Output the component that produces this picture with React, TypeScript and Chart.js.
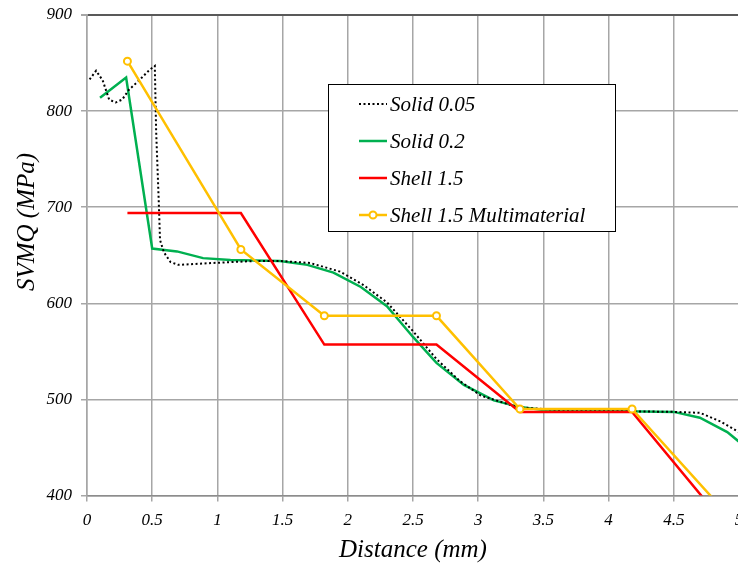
import React, { useEffect, useRef } from "react";
import { Chart, registerables } from "chart.js";
Chart.register(...registerables);

// ---- data ----
const seriesNames = ["Solid 0.05", "Solid 0.2", "Shell 1.5", "Shell 1.5 Multimaterial"];

const solid005X = [0.02, 0.07, 0.12, 0.17, 0.22, 0.27, 0.32, 0.40, 0.48, 0.52, 0.53, 0.55, 0.56, 0.59, 0.64, 0.70, 0.97, 1.28, 1.48, 1.71, 1.94, 2.12, 2.30, 2.50, 2.68, 2.86, 3.02, 3.30, 3.60, 4.00, 4.50, 4.70, 4.86, 5.00];
const solid005Y = [833, 842, 832, 812, 809, 812, 822, 832, 843, 847, 780, 707, 666, 653, 643, 640, 642, 644, 644, 642, 633, 619, 601, 571, 542, 519, 504, 492, 489, 488, 487, 486, 477, 466];

const solid02X = [0.10, 0.30, 0.50, 0.69, 0.89, 1.10, 1.48, 1.69, 1.89, 2.10, 2.30, 2.50, 2.68, 2.89, 3.02, 3.12, 3.32, 3.50, 4.00, 4.50, 4.70, 4.91, 5.00];
const solid02Y = [814, 835, 657, 654, 647, 645, 644, 640, 632, 617, 597, 565, 538, 515, 506, 499, 492, 489, 488, 487, 481, 466, 456];

const shellX = [0.31, 1.18, 1.82, 2.68, 3.32, 4.18, 4.82];
const shellY = [694, 694, 557, 557, 487, 487, 382];

const shellMultiX = [0.31, 1.18, 1.82, 2.68, 3.32, 4.18, 4.82];
const shellMultiY = [852, 656, 587, 587, 490, 490, 394];

const xMin = 0;
const xMax = 5;
const xStep = 0.5;
const yMin = 400;
const yMax = 900;
const yStep = 100;

const xTitle = "Distance (mm)";
const yTitle = "SVMQ (MPa)";

const toPoints = (xs: number[], ys: number[]) => xs.map((x, i) => ({ x, y: ys[i] }));

const FONT = "'Liberation Serif', 'Times New Roman', serif";

const overlayPlugin = {
  id: "overlay",
  afterDraw(chart: any) {
    const ctx = chart.ctx as CanvasRenderingContext2D;
    // y axis title
    ctx.save();
    ctx.font = `italic 25px ${FONT}`;
    ctx.fillStyle = "#000";
    ctx.translate(27, 222);
    ctx.rotate(-Math.PI / 2);
    ctx.textAlign = "center";
    ctx.textBaseline = "middle";
    ctx.fillText(yTitle, 0, 0);
    ctx.restore();

    // legend box
    const bx = 328.5, by = 84.5, bw = 287, bh = 147;
    ctx.save();
    ctx.fillStyle = "#fff";
    ctx.fillRect(bx, by, bw, bh);
    ctx.strokeStyle = "#000";
    ctx.lineWidth = 1;
    ctx.strokeRect(bx, by, bw, bh);
    const rows = [104, 141, 178, 215];
    chart.data.datasets.forEach((ds: any, i: number) => {
      const yy = rows[i];
      ctx.save();
      ctx.strokeStyle = ds.borderColor;
      ctx.lineWidth = ds.borderWidth;
      ctx.setLineDash(ds.borderDash || []);
      ctx.beginPath();
      ctx.moveTo(359, yy);
      ctx.lineTo(387, yy);
      ctx.stroke();
      ctx.setLineDash([]);
      if (ds.pointRadius > 0) {
        ctx.beginPath();
        ctx.arc(373, yy, ds.pointRadius, 0, Math.PI * 2);
        ctx.fillStyle = ds.pointBackgroundColor;
        ctx.fill();
        ctx.lineWidth = ds.pointBorderWidth;
        ctx.strokeStyle = ds.pointBorderColor;
        ctx.stroke();
      }
      ctx.restore();
      ctx.font = `italic 21px ${FONT}`;
      ctx.fillStyle = "#000";
      ctx.textAlign = "left";
      ctx.textBaseline = "middle";
      ctx.fillText(ds.label, 390, yy + 1);
    });
    ctx.restore();
  },
};

export default function App() {
  const ref = useRef<HTMLCanvasElement | null>(null);

  useEffect(() => {
    if (!ref.current) return;
    const chart = new Chart(ref.current, {
      type: "line",
      data: {
        datasets: [
          {
            label: seriesNames[0],
            data: toPoints(solid005X, solid005Y),
            borderColor: "#000000",
            borderWidth: 2,
            borderDash: [2, 2.5],
            pointRadius: 0,
            tension: 0,
            order: 3,
          },
          {
            label: seriesNames[1],
            data: toPoints(solid02X, solid02Y),
            borderColor: "#00B050",
            borderWidth: 2.5,
            pointRadius: 0,
            tension: 0,
            order: 4,
          },
          {
            label: seriesNames[2],
            data: toPoints(shellX, shellY),
            borderColor: "#FF0000",
            borderWidth: 2.5,
            pointRadius: 0,
            tension: 0,
            order: 2,
          },
          {
            label: seriesNames[3],
            data: toPoints(shellMultiX, shellMultiY),
            borderColor: "#FFC000",
            borderWidth: 2.5,
            pointRadius: 3.5,
            pointBorderWidth: 2,
            pointBorderColor: "#FFC000",
            pointBackgroundColor: "#ffffff",
            tension: 0,
            order: 1,
            clip: 0,
          } as any,
        ],
      },
      options: {
        animation: false,
        responsive: false,
        parsing: true,
        layout: { padding: { top: 15, right: 41, left: 0, bottom: 0 } },
        plugins: {
          legend: { display: false },
          tooltip: { enabled: false },
          title: { display: false },
        },
        scales: {
          x: {
            type: "linear",
            min: xMin,
            max: xMax,
            afterFit: (s: any) => {
              s.height = 72.5;
            },
            ticks: {
              stepSize: xStep,
              padding: 9,
              color: "#000",
              font: { family: FONT, size: 17, style: "italic" },
              callback: (v: any) => String(v),
              maxRotation: 0,
              autoSkip: false,
            },
            grid: {
              color: "#a6a6a6",
              lineWidth: 1.5,
              tickLength: 6,
              tickColor: "#a6a6a6",
            },
            border: { color: "#8c8c8c", width: 1.5 },
            title: {
              display: true,
              text: xTitle,
              color: "#000",
              font: { family: FONT, size: 25, style: "italic" },
              padding: { top: 0, bottom: 3 },
            },
          },
          y: {
            type: "linear",
            min: yMin,
            max: yMax,
            afterFit: (s: any) => {
              s.width = 87;
              s.paddingTop = 0;
              s.paddingBottom = 0;
            },
            ticks: {
              stepSize: yStep,
              padding: 9,
              color: "#000",
              font: { family: FONT, size: 17, style: "italic" },
              callback: (v: any) => String(v),
            },
            grid: {
              color: (c: any) => (c.tick && c.tick.value === yMax ? "#595959" : "#a6a6a6"),
              lineWidth: (c: any) => (c.tick && c.tick.value === yMax ? 2 : 1.5),
              tickLength: 6,
              tickColor: "#a6a6a6",
            },
            border: { color: "#a6a6a6", width: 1.5 },
          },
        },
      },
      plugins: [overlayPlugin],
    } as any);
    return () => chart.destroy();
  }, []);

  return (
    <div
      style={{
        position: "fixed",
        left: 0,
        top: 0,
        width: 738,
        height: 568,
        overflow: "hidden",
        background: "#fff",
      }}
    >
      <canvas ref={ref} width={780} height={568} style={{ display: "block" }} />
    </div>
  );
}
